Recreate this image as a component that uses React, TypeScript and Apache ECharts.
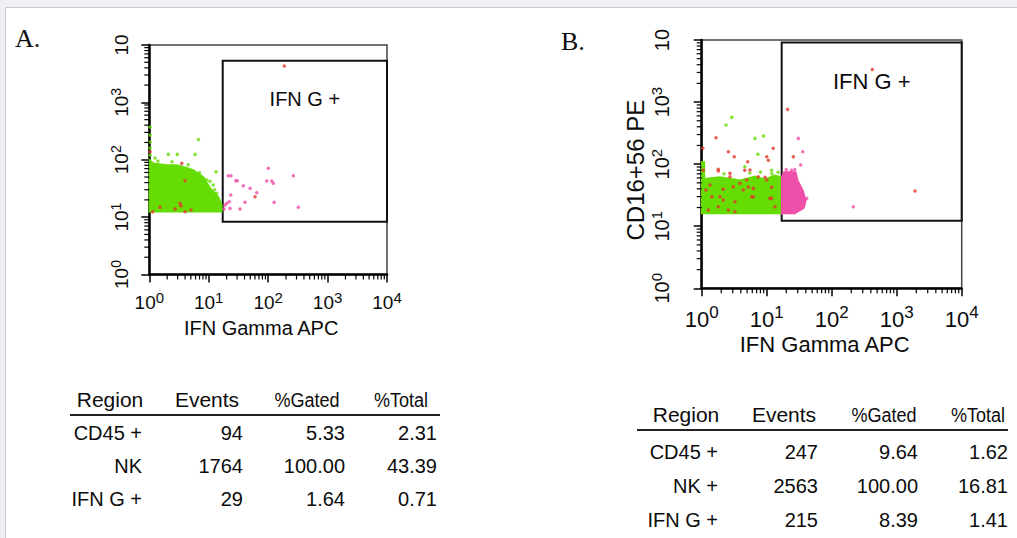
import React, { useEffect, useRef } from 'react';
import * as echarts from 'echarts';

const FONT = '"Liberation Sans", Arial, Helvetica, sans-serif';
const SERIF = '"Liberation Serif", "Times New Roman", serif';
const GREEN = '#66dc05';
const PINK = '#ee4fa8';
const RED = '#e2392c';
const INK = '#0c0c0c';

// axis decades and minor tick multipliers
const decadeValues = [1, 10, 100, 1000, 10000];
const minorMultipliers = [2, 3, 4, 5, 6, 7, 8, 9];
const axisMin = 1;
const axisMax = 10000;

const xAxisTitle = 'IFN Gamma APC';
const bYAxisTitle = 'CD16+56 PE';
const gateLabel = 'IFN G +';
const panelLabels = ['A.', 'B.'];

// ---------- Panel A data ----------
const aGate = [[17.2, 8.3], [10000, 5300]];
const aGreenCloud = [
  [1, 12.4], [1, 100], [1.17, 86.5], [1.96, 80.9], [2.89, 80.9], [3.74, 75.5], [5.5, 66.2],
  [8.1, 50.6], [9.85, 36.3], [11.2, 29.6], [14.5, 22.7], [16.6, 16.2], [16.6, 12.4],
];
const aGreenPoints = [
  [6.7, 226], [2.09, 124], [2.96, 124], [5.9, 124], [1.25, 107], [13.3, 61.8], [11.9, 36.3],
  [13.6, 26], [1.03, 371], [1.03, 269], [1.03, 203], [1.03, 121], [15.5, 14.2], [1.4, 95],
  [2.4, 92], [4.5, 82], [7, 60], [10.5, 42], [12.5, 30], [15, 19], [9.2, 45], [1.03, 160],
];
const aPinkPoints = [
  [21.4, 52.6], [23.7, 52.6], [28.5, 43.1], [30.3, 43.1], [38.2, 35.2], [49.6, 31.8], [64.3, 26.6],
  [23.5, 24.3], [22.2, 18.6], [40.8, 18.1], [33.6, 13.8], [22.8, 14.2], [20.1, 17.4], [100.8, 70.8],
  [94.7, 42.6], [115, 42.6], [122, 38.8], [266, 52.6], [126, 18.1], [322, 14.8], [18.8, 16.2], [18.1, 13.8],
];
const aRedPoints = [
  [187, 4290], [3.51, 86.5], [3.99, 43.1], [60.2, 22.7], [3.29, 17.4], [1.51, 14.8], [1.14, 12.4],
  [2.71, 13.8], [3.99, 12.4], [1.03, 138], [3.42, 15.8], [5.03, 13.3],
];

// ---------- Panel B data ----------
const bGate = [[17, 12.3], [10000, 9080]];
const bGreenCloud = [
  [1, 16], [1, 108], [1.1, 108], [1.1, 58], [1.9, 62], [3.9, 55], [6.6, 64], [9.4, 57],
  [13.4, 66], [17, 62], [17, 16],
];
const bPinkCloud = [
  [17, 16], [17, 62], [18.5, 75], [28, 75], [30, 55], [36, 38], [40, 26], [37.5, 19.6], [27, 16],
];
const bGreenPoints = [
  [2.37, 426], [2.9, 567], [6.6, 260], [8.9, 284], [7.3, 144], [1.04, 103], [4.6, 91], [11.9, 80],
  [2.2, 70], [5.5, 72], [8, 75], [12, 70], [15, 74],
];
const bPinkPoints = [
  [30.6, 260], [35.8, 158], [33.3, 97], [215, 20.6], [41.2, 28.1], [20, 82], [24, 80], [27, 82],
];
const bRedPoints = [
  [422, 3360], [21, 763], [1914, 36.9], [1.66, 266], [1.04, 180], [2.57, 158], [3.17, 132],
  [12.6, 180], [5.1, 109], [10, 132], [25.7, 132], [1.8, 82.5], [2.72, 62.7], [3.88, 49],
  [1.34, 46], [1.91, 29.9], [6.2, 29.9], [3.25, 24.8], [1.26, 18.2], [3.25, 17.1], [11.9, 28.1],
  [7.4, 62.7], [1.06, 80], [5.2, 43], [10, 55.5], [4.6, 80], [1.8, 77.4], [2.72, 71.1],
  [5.53, 80.4], [10.6, 116], [2.15, 39.3], [3.06, 43.3], [4.36, 38.3], [6.22, 40.7], [9.42, 61.3],
  [11.9, 42.3], [1.43, 29.9], [2.15, 26.4], [1.8, 20.6], [2.57, 18.2], [5.88, 29.9], [11.2, 28.1],
  [13.4, 20.6], [1.16, 38.3], [4.92, 55.5],
];

// ---------- Tables ----------
const tableHeaders = ['Region', 'Events', '%Gated', '%Total'];
const tableARegion = ['CD45 +', 'NK', 'IFN G +'];
const tableAEvents = ['94', '1764', '29'];
const tableAGated = ['5.33', '100.00', '1.64'];
const tableATotal = ['2.31', '43.39', '0.71'];
const tableBRegion = ['CD45 +', 'NK +', 'IFN G +'];
const tableBEvents = ['247', '2563', '215'];
const tableBGated = ['9.64', '100.00', '8.39'];
const tableBTotal = ['1.62', '16.81', '1.41'];

const minorValues = decadeValues.slice(0, -1).flatMap((d) => minorMultipliers.map((m) => m * d));

function expOf(v: number) {
  return Math.round(Math.log10(v));
}

function makeAxis(opts: any) {
  const { gridIndex, isY, font, sup, lh, slh, margin, name, nameGap, nameSize, namePad } = opts;
  return {
    type: 'log',
    logBase: 10,
    gridIndex,
    min: axisMin,
    max: axisMax,
    axisLine: { show: true, onZero: false, lineStyle: { color: '#000', width: 2.5 } },
    axisTick: { show: true, length: 8, lineStyle: { color: '#000', width: 1.5 } },
    minorTick: { show: false },
    splitLine: { show: false },
    axisLabel: {
      show: true,
      margin,
      rotate: isY ? 90 : 0,
      fontSize: font,
      fontFamily: FONT,
      color: INK,
      showMinLabel: true,
      showMaxLabel: true,
      hideOverlap: false,
      formatter: (v: number) =>
        isY && v >= axisMax * 0.999 ? '{b|10}' : `{b|10}{s|${expOf(v)}}`,
      rich: {
        b: { fontSize: font, lineHeight: lh, fontFamily: FONT, color: INK },
        s: { fontSize: sup, lineHeight: slh, verticalAlign: 'top', fontFamily: FONT, color: INK },
      },
    },
    name: name || '',
    nameLocation: 'middle',
    nameGap: nameGap || 0,
    nameRotate: isY ? 90 : 0,
    nameTextStyle: { fontSize: nameSize, fontFamily: FONT, color: INK, padding: namePad },
  };
}

function tickSeries(idx: number, dir: 'x' | 'y') {
  return {
    type: 'custom',
    xAxisIndex: idx,
    yAxisIndex: idx,
    clip: false,
    silent: true,
    z: 6,
    data: minorValues.map((v) => (dir === 'x' ? [v, axisMin] : [axisMin, v])),
    renderItem: (params: any, api: any) => {
      const p = api.coord([api.value(0), api.value(1)]);
      return {
        type: 'line',
        shape:
          dir === 'x'
            ? { x1: p[0], y1: p[1], x2: p[0], y2: p[1] + 5 }
            : { x1: p[0], y1: p[1], x2: p[0] - 5, y2: p[1] },
        style: { stroke: '#000', lineWidth: 1.2 },
      };
    },
  };
}

function cloudSeries(idx: number, poly: number[][], color: string) {
  return {
    type: 'custom',
    xAxisIndex: idx,
    yAxisIndex: idx,
    silent: true,
    z: 3,
    data: poly,
    renderItem: (params: any, api: any) => {
      if (params.dataIndex !== 0) return { type: 'group', children: [] };
      return {
        type: 'polygon',
        shape: { points: poly.map((p) => api.coord(p)) },
        style: { fill: color, stroke: color, lineWidth: 1.5 },
      };
    },
  };
}

function scatter(idx: number, data: number[][], color: string, z: number, extra: any = {}) {
  return {
    type: 'scatter',
    xAxisIndex: idx,
    yAxisIndex: idx,
    symbol: 'circle',
    symbolSize: 3.5,
    silent: true,
    z,
    itemStyle: { color },
    data,
    ...extra,
  };
}

function gateArea(gate: number[][], fontSize: number) {
  return {
    markArea: {
      silent: true,
      itemStyle: { color: 'rgba(0,0,0,0)', borderColor: '#111', borderWidth: 2 },
      label: { show: true, position: 'insideTop', distance: 29, fontSize, fontFamily: FONT, color: INK },
      data: [[{ name: gateLabel, coord: gate[0] }, { coord: gate[1] }]],
    },
  };
}

function text(x: number, y: number, t: string, size: number, align: string, extra: any = {}) {
  return {
    type: 'text',
    x,
    y,
    z: 10,
    ...extra,
    style: {
      text: t,
      fontSize: size,
      fontFamily: FONT,
      fill: INK,
      align,
      textAlign: align,
      verticalAlign: 'middle',
      textVerticalAlign: 'middle',
    },
  };
}

function tableGraphics(cfg: any) {
  const els: any[] = [];
  const { headerY, headerX, lineY, lineX1, lineX2, rowY, rights, region, events, gated, total } = cfg;
  tableHeaders.forEach((h, i) => {
    els.push(text(headerX[i], headerY, h, 21, 'center', i >= 2 ? { scaleX: 0.86 } : {}));
  });
  els.push({
    type: 'line',
    z: 10,
    shape: { x1: lineX1, y1: lineY, x2: lineX2, y2: lineY },
    style: { stroke: '#222', lineWidth: 2 },
  });
  rowY.forEach((y: number, r: number) => {
    els.push(text(rights[0], y, region[r], 20, 'right'));
    els.push(text(rights[1], y, events[r], 20, 'right'));
    els.push(text(rights[2], y, gated[r], 20, 'right'));
    els.push(text(rights[3], y, total[r], 20, 'right'));
  });
  return els;
}

export default function App() {
  const ref = useRef<HTMLDivElement>(null);
  useEffect(() => {
    const chart = echarts.init(ref.current!, null, { renderer: 'svg' });
    const option: any = {
      animation: false,
      backgroundColor: '#eef0f3',
      grid: [
        { left: 149.3, top: 45, width: 237.7, height: 229.5, show: true, borderColor: '#444', borderWidth: 1.5, backgroundColor: 'transparent' },
        { left: 701.7, top: 40, width: 260, height: 248.3, show: true, borderColor: '#444', borderWidth: 1.5, backgroundColor: 'transparent' },
      ],
      xAxis: [
        makeAxis({ gridIndex: 0, isY: false, font: 19, sup: 15, lh: 26, slh: 8, margin: 15, name: xAxisTitle, nameGap: 43, nameSize: 20, namePad: [0, 14, 0, 0] }),
        makeAxis({ gridIndex: 1, isY: false, font: 22, sup: 17, lh: 30, slh: 10, margin: 16, name: xAxisTitle, nameGap: 45, nameSize: 22, namePad: [0, 14, 0, 0] }),
      ],
      yAxis: [
        makeAxis({ gridIndex: 0, isY: true, font: 19, sup: 14, lh: 24, slh: 8, margin: 16, name: '', nameGap: 0, nameSize: 12, namePad: 0 }),
        makeAxis({ gridIndex: 1, isY: true, font: 20, sup: 15, lh: 26, slh: 8, margin: 27, name: bYAxisTitle, nameGap: 53, nameSize: 24, namePad: [0, 12, 0, 0] }),
      ],
      series: [
        tickSeries(0, 'x'),
        tickSeries(0, 'y'),
        cloudSeries(0, aGreenCloud, GREEN),
        scatter(0, aGreenPoints, GREEN, 4),
        scatter(0, aPinkPoints, PINK, 4, gateArea(aGate, 20)),
        scatter(0, aRedPoints, RED, 5),
        tickSeries(1, 'x'),
        tickSeries(1, 'y'),
        cloudSeries(1, bGreenCloud, GREEN),
        cloudSeries(1, bPinkCloud, PINK),
        scatter(1, bGreenPoints, GREEN, 4),
        scatter(1, bPinkPoints, PINK, 4, gateArea(bGate, 22)),
        scatter(1, bRedPoints, RED, 5),
      ],
      graphic: [
        {
          type: 'rect',
          z: -10,
          shape: { x: 5.5, y: 7.5, width: 1030, height: 560 },
          style: { fill: '#ffffff', stroke: '#c8c8c8', lineWidth: 1 },
        },
        {
          type: 'text', x: 15, y: 38, z: 10,
          style: { text: panelLabels[0], fontSize: 26, fontFamily: SERIF, fill: INK, align: 'left', textAlign: 'left', verticalAlign: 'middle', textVerticalAlign: 'middle' },
        },
        {
          type: 'text', x: 561, y: 41, z: 10,
          style: { text: panelLabels[1], fontSize: 26, fontFamily: SERIF, fill: INK, align: 'left', textAlign: 'left', verticalAlign: 'middle', textVerticalAlign: 'middle' },
        },
        ...tableGraphics({
          headerY: 399, headerX: [110, 207, 307, 401], lineY: 415, lineX1: 70, lineX2: 440,
          rowY: [433, 466, 499], rights: [142, 243, 345, 437],
          region: tableARegion, events: tableAEvents, gated: tableAGated, total: tableATotal,
        }),
        ...tableGraphics({
          headerY: 414, headerX: [686, 784, 884, 978], lineY: 430, lineX1: 637, lineX2: 1008,
          rowY: [452, 486, 520], rights: [718, 818, 918, 1008],
          region: tableBRegion, events: tableBEvents, gated: tableBGated, total: tableBTotal,
        }),
      ],
    };
    chart.setOption(option);
    return () => chart.dispose();
  }, []);
  return <div ref={ref} style={{ position: 'fixed', left: 0, top: 0, width: 1017, height: 538 }} />;
}
